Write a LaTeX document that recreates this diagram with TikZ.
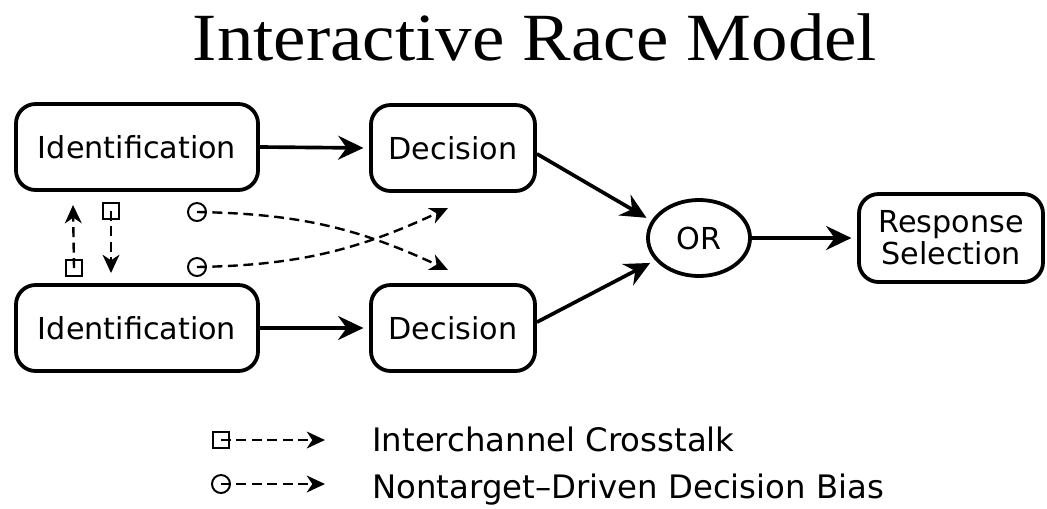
\documentclass[tikz,border=0pt]{standalone}
\usepackage{fontspec}
\setsansfont{DejaVu Sans}
\newfontfamily\titlefont{Liberation Serif}
\usetikzlibrary{arrows.meta}
\usetikzlibrary{shapes.geometric}
\tikzstyle{box}=[draw, line width=2.7pt, rounded corners=14pt, align=center, inner sep=0pt, minimum height=2.15cm, font=\sffamily\fontsize{21.5}{23}\selectfont]
\tikzstyle{arr}=[line width=2.6pt, -{Stealth[length=18pt, width=17pt, inset=6pt]}]
\tikzstyle{xarr}=[line width=1.7pt, dash pattern=on 7pt off 4pt, -{Stealth[length=13pt, width=12pt, inset=4pt]}]
\tikzstyle{sq}=[draw, line width=1.4pt, minimum size=0.42cm, inner sep=0pt]
\tikzstyle{circ}=[draw, circle, line width=1.4pt, minimum size=0.45cm, inner sep=0pt]
\tikzstyle{legend}=[anchor=base west, inner sep=0pt, font=\sffamily\fontsize{23}{25}\selectfont]

\begin{document}
\begin{tikzpicture}[x=0.025cm, y=-0.025cm]
    \useasboundingbox (0,0) rectangle (1047,508);
    \node[anchor=base, inner sep=0pt] (title) at (535,60)
      {\titlefont\fontsize{48}{50}\selectfont\scalebox{1.08}[1]{Interactive Race Model}};
    % channels
    \node[box, minimum width=6.05cm] (id1) at (137,147) {Identification};
    \node[box, minimum width=6.05cm] (id2) at (137,328) {Identification};
    \node[box, minimum width=4.1cm] (dec1) at (453,148) {Decision};
    \node[box, minimum width=4.1cm] (dec2) at (453,328) {Decision};
    \node[draw, ellipse, line width=2.7pt, minimum width=2.55cm, minimum height=1.9cm,
      inner sep=0pt, font=\sffamily\fontsize{21.5}{23}\selectfont] (OR) at (699,238) {OR};
    \node[box, minimum width=4.6cm, minimum height=2.2cm] (resp) at (951,238) {Response\\Selection};
    \foreach \from/\to in
      {id1.east/dec1.west, id2.east/dec2.west, dec1.-4/OR.160, dec2.4/OR.207, OR.east/resp.west}
    \draw[arr, shorten >=4pt] (\from) -- (\to);
    % crosstalk and bias
    \node[sq] (sq1) at (74,268) {};
    \node[sq] (sq2) at (111,211) {};
    \node[circ] (c1) at (197,212) {};
    \node[circ] (c2) at (197,267) {};
    \coordinate (t1) at (73,205);
    \coordinate (t2) at (111,273);
    \coordinate (e1) at (448,270);
    \coordinate (e2) at (448,208);
    \draw[xarr] (sq1.center) -- (t1);
    \draw[xarr] (sq2.center) -- (t2);
    \draw[xarr] (c1.center) to[out=-1, in=155] (e1);
    \draw[xarr] (c2.center) to[out=1, in=-155] (e2);
    % legend
    \node[sq] (lsq) at (221,440) {};
    \node[circ] (lci) at (221,484) {};
    \coordinate (l1) at (325,440);
    \coordinate (l2) at (325,484);
    \draw[xarr] (lsq.center) -- (l1);
    \draw[xarr] (lci.center) -- (l2);
    \node[legend] (txt1) at (372,451) {Interchannel Crosstalk};
    \node[legend] (txt2) at (372,498) {Nontarget--Driven Decision Bias};
\end{tikzpicture}
\end{document}
